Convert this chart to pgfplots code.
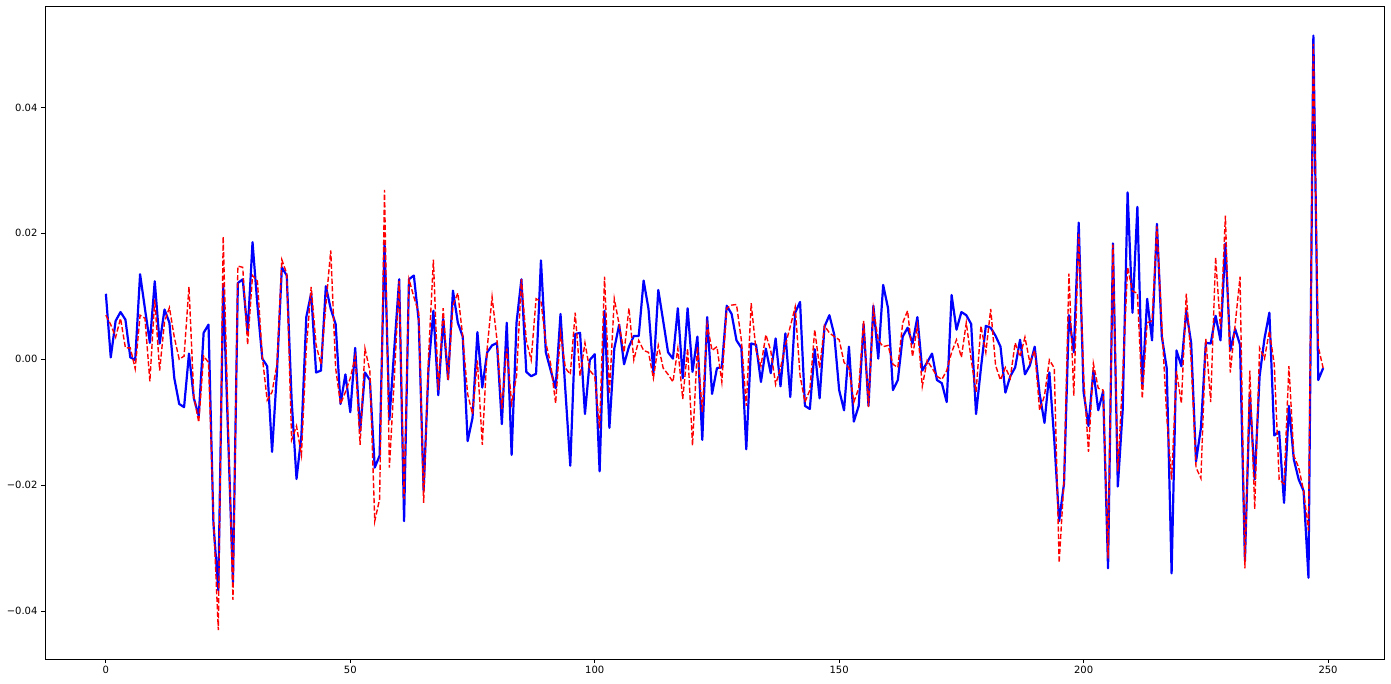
\documentclass[border=0pt]{standalone}
\usepackage{pgfplots}
\pgfplotsset{compat=1.18}
\usepackage{pgfplotstable}
\usepackage{fontspec}
\setmainfont{DejaVu Sans}
% values in units of 0.001
\pgfplotstableread{
k b r
0 10.4 7.0
1 0.3 5.5
2 6.1 3.5
3 7.5 6.5
4 6.3 1.8
5 0.3 1.8
6 -0.1 -1.5
7 13.5 7.0
8 8.0 6.5
9 2.6 -3.5
10 12.4 9.5
11 2.5 -1.8
12 7.9 6.0
13 5.8 8.2
14 -3.0 3.5
15 -7.1 0.0
16 -7.6 0.5
17 0.9 11.5
18 -6.2 -6.0
19 -9.0 -10.0
20 4.2 0.5
21 5.5 -0.5
22 -26.0 -25.0
23 -36.7 -43.0
24 11.8 19.5
25 -12.0 -10.0
26 -35.4 -38.2
27 12.1 14.8
28 12.7 14.6
29 4.2 2.3
30 18.6 13.3
31 8.6 12.4
32 0.1 0.4
33 -1.1 -6.5
34 -14.7 -5.2
35 -2.0 -0.8
36 14.6 15.8
37 13.3 13.6
38 -6.5 -12.8
39 -19.0 -10.6
40 -12.1 -15.2
41 6.7 1.7
42 10.5 11.5
43 -2.1 2.3
44 -1.8 -0.8
45 11.6 8.6
46 8.0 17.3
47 5.6 -1.4
48 -7.1 -7.1
49 -2.4 -5.2
50 -8.4 -3.0
51 1.8 0.4
52 -11.5 -13.6
53 -2.1 1.7
54 -3.3 -1.8
55 -17.2 -25.7
56 -15.3 -22.2
57 18.7 26.9
58 -9.6 -17.2
59 1.7 -3.0
60 12.7 12.4
61 -25.7 -22.2
62 12.7 12.7
63 13.3 9.9
64 6.1 7.4
65 -20.9 -22.8
66 -1.4 0.4
67 7.7 15.8
68 -5.7 -4.9
69 6.4 8.1
70 -3.2 -3.3
71 10.9 8.6
72 5.8 10.5
73 3.6 3.6
74 -13.0 -5.5
75 -9.3 -8.7
76 4.3 -0.2
77 -4.5 -13.6
78 1.1 1.7
79 2.2 9.9
80 2.6 3.1
81 -10.3 -7.9
82 5.8 1.7
83 -15.2 -7.0
84 5.8 -2.7
85 12.7 12.7
86 -2.0 3.0
87 -2.7 -0.1
88 -2.3 9.6
89 15.7 9.2
90 1.1 2.6
91 -1.8 -0.8
92 -4.6 -7.0
93 7.2 4.2
94 -5.0 -1.4
95 -16.9 -2.4
96 4.0 7.4
97 4.2 -2.7
98 -8.7 2.6
99 -0.1 -1.8
100 0.8 -2.7
101 -17.8 -11.0
102 7.7 13.1
103 -10.9 -5.5
104 1.7 9.6
105 5.5 5.5
106 -0.8 1.1
107 2.0 8.1
108 3.7 -0.1
109 3.7 3.0
110 12.5 1.4
111 8.0 1.1
112 -2.1 -3.0
113 11.0 2.2
114 6.1 -1.4
115 1.1 -2.4
116 0.1 -3.6
117 8.1 1.7
118 -3.0 -6.3
119 8.1 1.7
120 -2.0 -13.7
121 3.6 2.0
122 -12.8 -8.4
123 6.7 5.5
124 -5.5 1.4
125 -1.4 2.0
126 -1.3 -3.6
127 8.5 8.1
128 7.2 8.6
129 3.0 8.7
130 1.8 3.0
131 -14.3 -7.4
132 2.5 8.9
133 2.3 1.4
134 -3.6 -1.1
135 1.7 3.9
136 -2.2 1.4
137 3.3 -4.0
138 -4.3 -1.4
139 4.1 2.3
140 -6.0 5.2
141 7.4 8.3
142 9.1 -2.6
143 -7.4 -6.8
144 -7.9 -4.9
145 1.6 4.7
146 -6.2 -1.4
147 5.2 5.3
148 7.0 4.2
149 3.9 3.6
150 -4.9 3.1
151 -8.1 -0.5
152 2.0 -1.4
153 -9.9 -6.8
154 -7.4 -4.6
155 5.6 6.1
156 -7.4 -7.6
157 8.5 8.0
158 0.1 3.0
159 11.8 2.0
160 8.1 2.2
161 -4.9 -0.8
162 -3.3 -1.3
163 3.6 5.8
164 5.0 7.7
165 2.5 0.4
166 6.7 5.3
167 -1.8 -4.3
168 -0.5 -0.2
169 0.9 -1.4
170 -3.3 -2.7
171 -3.8 -3.2
172 -6.8 -1.8
173 10.2 1.1
174 4.7 3.1
175 7.5 0.3
176 7.0 5.8
177 5.6 0.0
178 -8.7 -5.2
179 -1.4 5.3
180 5.3 1.1
181 5.0 8.0
182 3.7 -1.0
183 2.0 -3.3
184 -5.3 -1.3
185 -2.7 -3.0
186 -1.3 2.6
187 3.1 0.4
188 -2.4 3.5
189 -1.0 -0.5
190 2.0 1.4
191 -5.5 -8.1
192 -10.1 -5.8
193 -2.1 -0.1
194 -12.8 -1.4
195 -25.7 -32.3
196 -19.7 -19.1
197 7.0 13.6
198 1.1 -5.8
199 21.7 19.9
200 -5.2 -2.7
201 -10.6 -14.7
202 -1.8 -0.7
203 -8.1 -4.6
204 -5.1 -4.9
205 -33.2 -31.6
206 18.4 18.2
207 -20.2 -17.8
208 -8.0 -2.7
209 26.5 14.6
210 7.4 10.8
211 24.2 10.5
212 -4.6 -6.2
213 9.6 5.8
214 3.0 6.1
215 21.5 21.1
216 3.6 5.5
217 -1.4 -9.0
218 -34.0 -19.1
219 1.4 -1.9
220 -1.1 -7.0
221 7.7 10.4
222 2.6 -0.2
223 -16.2 -17.2
224 -10.9 -18.9
225 2.6 3.3
226 2.5 -6.8
227 6.9 16.2
228 3.0 4.8
229 18.4 22.8
230 1.4 -2.1
231 4.8 5.5
232 2.3 13.1
233 -32.0 -33.2
234 -5.5 -1.8
235 -19.1 -23.8
236 -2.7 1.8
237 3.3 0.1
238 7.4 4.5
239 -12.1 -0.8
240 -11.5 -19.1
241 -22.8 -19.8
242 -7.4 -1.1
243 -15.9 -15.3
244 -19.1 -17.2
245 -20.9 -20.9
246 -34.7 -27.2
247 51.4 50.1
248 -3.3 2.0
249 -1.4 -1.4
}\datatable
\begin{document}
\begin{tikzpicture}
\begin{axis}[
  scale only axis,
  width=1339pt, height=653pt,
  xmin=-12.45, xmax=261.45,
  ymin=-47.6, ymax=56.1,
  xtick={0,50,100,150,200,250},
  ytick={-40,-20,0,20,40},
  yticklabels={−0.04,−0.02,0.00,0.02,0.04},
  /pgf/number format/assume math mode=true,
  tick align=outside,
  major tick length=3.5pt,
  tick style={black, line width=0.8pt},
  axis line style={black, line width=0.8pt},
  tick label style={font=\fontsize{10}{12}\selectfont, black},
  xtick pos=bottom, ytick pos=left,
  xticklabel style={yshift=-0.5pt},
  yticklabel style={xshift=-0.5pt},
]
\addplot[blue, line width=2.2pt, line join=round] table[x=k, y=b] {\datatable};
\addplot[red, line width=1.4pt, dash pattern=on 5.2pt off 2.3pt] table[x=k, y=r] {\datatable};
\end{axis}
\path (current axis.south west) ++(-45pt,-24pt) coordinate (bbsw);
\path (current axis.north east) ++(7pt,6pt) coordinate (bbne);
\path[use as bounding box] (bbsw) rectangle (bbne);
\end{tikzpicture}
\end{document}
